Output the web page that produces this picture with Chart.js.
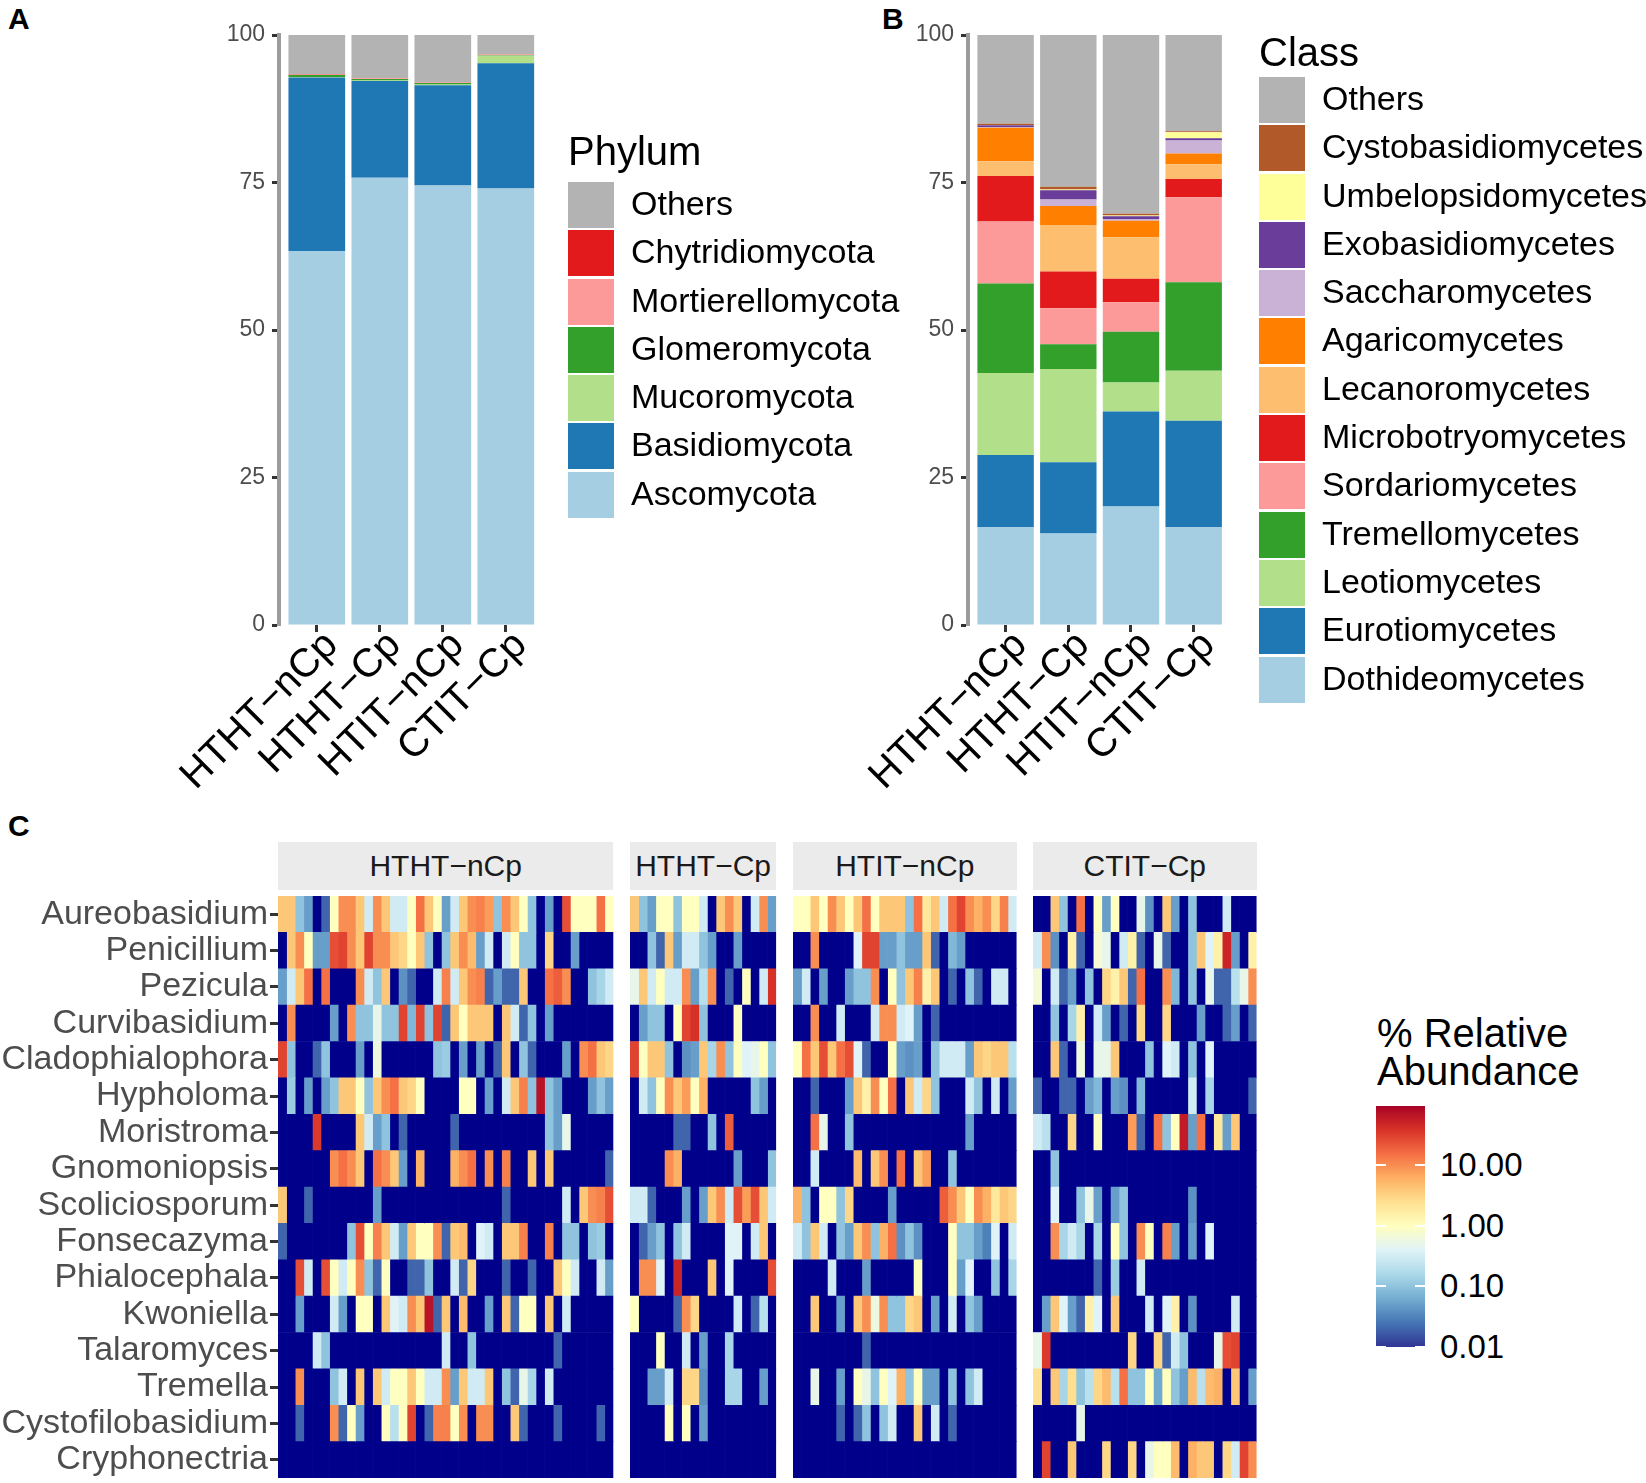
<!DOCTYPE html>
<html>
<head>
<meta charset="utf-8">
<script src="https://cdn.jsdelivr.net/npm/chart.js@4.4.1/dist/chart.umd.min.js"></script>
<style>
body{margin:0;background:#fff;width:1646px;height:1483px;position:relative;overflow:hidden;font-family:"Liberation Sans",Arial,Helvetica,sans-serif;}
canvas{position:absolute;}
.abs{position:absolute;white-space:nowrap;}
.tag{position:absolute;font-weight:bold;font-size:30px;line-height:30px;color:#000;}
.ltitle{position:absolute;font-size:40px;line-height:40px;color:#000;white-space:nowrap;}
.item{position:relative;height:48.3px;}
.key{position:absolute;left:0;top:1px;width:46px;height:46px;}
.ltext{position:absolute;left:63px;top:-2px;font-size:34px;line-height:48.3px;color:#000;white-space:nowrap;}
.strip{position:absolute;top:842px;height:48px;background:#EBEBEB;color:#1A1A1A;font-size:30px;line-height:48px;text-align:center;white-space:nowrap;}
</style>
</head>
<body>
<div class="tag" style="left:8px;top:4px">A</div>
<div class="tag" style="left:882px;top:4px">B</div>
<div class="tag" style="left:8px;top:811px">C</div>

<canvas id="chartA" width="600" height="830" style="left:0;top:0"></canvas>
<canvas id="chartB" width="600" height="830" style="left:700px;top:0"></canvas>
<div id="legA"></div>
<div id="legB"></div>
<div id="heat"></div>
<div id="cbar"></div>

<script>
// ---- data ----
const treatments = ['HTHT−nCp', 'HTHT−Cp', 'HTIT−nCp', 'CTIT−Cp'];

// panel A, % per phylum
const ascomycota = [63.4, 75.8, 74.5, 74.0];
const basidiomycota = [29.4, 16.4, 17.0, 21.2];
const mucoromycota = [0.1, 0.1, 0.1, 1.3];
const glomeromycota = [0.3, 0.25, 0.25, 0.05];
const mortierellomycota = [0.1, 0.1, 0.1, 0.15];
const chytridiomycota = [0.1, 0.05, 0.05, 0.05];
const phylumOthers = [6.6, 7.3, 8.0, 3.25];

// panel B, % per class
const dothideomycetes = [16.6, 15.5, 20.1, 16.6];
const eurotiomycetes = [12.2, 12.1, 16.1, 18.0];
const leotiomycetes = [13.9, 15.8, 4.9, 8.5];
const tremellomycetes = [15.2, 4.2, 8.6, 15.0];
const sordariomycetes = [10.5, 6.1, 5.0, 14.4];
const microbotryomycetes = [7.7, 6.2, 4.0, 3.1];
const lecanoromycetes = [2.5, 7.9, 7.0, 2.5];
const agaricomycetes = [5.7, 3.2, 2.8, 1.8];
const saccharomycetes = [0.1, 1.1, 0.3, 2.2];
const exobasidiomycetes = [0.3, 1.6, 0.5, 0.4];
const umbelopsidomycetes = [0.05, 0.1, 0.1, 1.0];
const cystobasidiomycetes = [0.2, 0.5, 0.3, 0.2];
const classOthers = [15.05, 25.7, 30.3, 16.3];

// panel C, % relative abundance per sample (rows = genera, columns = samples)
const genera = ['Aureobasidium', 'Penicillium', 'Pezicula', 'Curvibasidium', 'Cladophialophora', 'Hypholoma',
  'Moristroma', 'Gnomoniopsis', 'Scoliciosporum', 'Fonsecazyma', 'Phialocephala', 'Kwoniella',
  'Talaromyces', 'Tremella', 'Cystofilobasidium', 'Cryphonectria'];

const heatHTHTnCp = [
  [4,4,.1,.05,0,.02,1,10,10,4,.3,10,4,.3,.3,1,15,4,1,.05,.3,4,10,12,8,.1,10,4,1,.1,0,.05,0,25,1,1,1,15,1],
  [0,4,10,1,.05,.05,25,30,10,4,30,10,10,4,3,1,4,.1,0,.1,4,10,5,.05,.3,0,.3,1,.1,.1,0,3,0,0,.05,0,0,0,0],
  [.05,.3,4,15,0,15,0,0,0,10,.3,.1,4,0,.04,.02,0,0,.3,12,.3,4,10,12,.02,.05,.02,.02,4,0,0,15,20,10,0,0,.1,.15,.3],
  [0,10,0,0,0,0,.05,0,10,.1,.1,.5,.1,.1,30,.08,30,.1,30,.02,4,1,4,4,4,0,4,.3,.02,.1,0,.05,0,0,0,0,0,0,0],
  [30,.1,0,0,.02,.1,0,0,0,.05,0,.6,0,0,0,0,0,0,.1,.12,0,.05,0,.05,0,.02,4,0,.1,.02,0,0,0,.05,0,10,15,4,3],
  [0,.12,0,.05,0,.05,.1,4,4,1,.1,4,10,15,4,3,1,0,0,0,0,1,1,0,.05,0,.3,4,12,.1,70,.1,.05,0,0,0,.05,.1,.05],
  [0,0,0,0,35,0,0,0,0,4,.3,.05,.1,0,.02,0,0,0,0,0,.02,0,0,0,0,0,0,0,0,0,0,.1,.05,.5,0,0,0,0,0],
  [0,0,0,0,0,0,10,15,10,4,0,15,10,4,.05,0,6,0,0,0,6,10,15,0,10,0,12,0,0,4,0,4,0,0,0,0,0,0,.02],
  [4,0,0,.02,0,0,0,0,0,0,0,.05,0,0,0,0,0,0,0,0,0,0,0,0,0,0,.02,0,0,0,0,0,0,.3,0,4,10,12,25],
  [.02,0,0,0,0,0,0,0,.1,25,1,12,4,.3,.05,4,1,1,10,.02,4,5,0,.4,.3,0,4,4,12,0,0,12,0,.1,.1,0,.1,.12,0],
  [0,0,25,.3,0,25,1,.3,1,10,.1,.02,1,0,0,.02,.02,.1,0,0,.3,.02,3,0,0,0,.02,0,0,.02,0,0,4,1,.3,0,0,.3,.05],
  [0,0,.05,0,0,0,.3,.05,0,1,1,0,4,.4,.3,10,4,70,.02,4,0,5,0,0,.05,0,4,.02,1,1,0,4,0,.3,0,0,0,0,0],
  [0,0,0,0,.3,.1,0,0,0,0,0,0,0,0,0,0,0,0,0,.3,0,0,.1,0,0,0,0,0,0,0,0,0,.02,0,0,0,0,0,0],
  [0,0,10,0,0,0,.1,.3,0,4,0,4,.3,1,1,4,1,.3,.3,10,.05,4,.3,.3,4,0,.1,.02,.5,.15,0,.3,0,0,0,0,0,0,0],
  [0,0,.02,0,0,0,10,.02,1,.05,0,0,1,.2,1,30,0,.02,12,12,1,10,0,10,10,0,0,4,.02,0,0,0,.02,0,0,0,0,.02,0],
  [0,0,0,0,0,0,0,0,0,0, 0,0,0,0,0,0,0,0,0,0, 0,0,0,0,0,0,0,0,0,0, 0,0,0,0,0,0,0,0,0]
];

const heatHTHTCp = [
  [4,.1,.05,1,1,.1,1,1,.3,0,4,10,4,0,.3,10,.05],
  [0,0,.1,.02,4,.05,.3,.3,.1,.05,0,0,.05,0,0,0,0],
  [.5,4,.3,1,.3,.3,10,.05,.2,10,0,.02,0,1,0,.3,40],
  [0,.05,.1,.1,0,1,30,40,.1,0,0,0,1,0,0,0,0],
  [30,1,4,4,.1,0,.04,.05,4,.15,10,.1,1,.4,.5,1,.1],
  [0,.3,.1,1,10,4,8,1,6,0,0,0,0,0,.1,.05,0],
  [0,0,0,0,0,.02,.02,0,0,.1,0,20,0,0,0,0,0],
  [0,0,0,0,10,6,0,0,0,0,0,0,.05,0,0,0,.1],
  [.3,.3,.02,0,0,0,.05,0,.05,4,10,.3,25,8,25,4,.3],
  [0,.02,.05,.1,0,.1,.3,0,0,0,0,.4,.4,0,.3,4,0],
  [0,10,10,.4,0,50,0,0,0,4,0,.4,0,0,0,0,25],
  [1,0,0,0,0,.02,10,3,0,0,0,0,.3,0,.02,.2,0],
  [0,0,0,1,0,0,.3,0,.05,0,0,.15,0,0,0,0,0],
  [0,0,.05,.05,.3,0,3,3,.04,0,0,.15,.15,0,0,.05,0],
  [0,0,0,0,1,0,1,0,.05,0,0,0,0,0,0,0,0],
  [0,0,0,0,0,0,0,0,0,0,0,0,0,0,0,0,0]
];

const heatHTITnCp = [
  [1,1,4,1,10,4,1,4,15,1,4,4,4,.1,15,2,4,.3,15,30,10,6,10,3,12,.3],
  [0,0,10,0,0,0,0,.4,30,30,.05,.05,.1,.05,.05,4,.02,0,.08,.05,0,0,0,0,0,0],
  [.05,.3,0,.05,0,0,.05,.1,.1,10,0,1,.1,4,12,1.5,4,0,.02,0,.1,.02,0,.3,.3,0],
  [0,0,10,0,0,.3,0,0,0,.3,10,10,.3,.4,.05,0,.02,0,0,0,0,0,0,0,0,0],
  [1,15,4,25,4,15,25,.4,.02,0,0,1,.05,.04,.05,0,.1,.3,.3,.3,.05,4,3,4,4,.2],
  [0,0,.02,0,0,0,.05,4,1.5,10,1,15,0,4,.3,3,.1,0,0,0,.3,.1,0,.3,0,.05],
  [0,0,15,.5,0,0,.1,0,0,0,0,0,0,0,0,0,0,0,0,0,.05,0,0,0,0,0],
  [0,0,.3,0,0,0,0,5,0,4,10,0,15,0,4,8,0,0,.1,0,0,0,0,0,0,0],
  [6,.1,0,1,1,.1,3,0,0,0,0,.05,0,0,0,0,0,20,10,4,1,10,6,2,4,3],
  [.3,.1,4,.3,0,.1,.05,4,10,.1,6,15,.04,.1,.04,0,0,0,1,.1,.1,.05,.03,.4,0,.3],
  [0,0,0,0,.3,0,0,0,.05,0,0,0,0,0,1,0,0,0,1,.05,.4,0,0,.1,0,.15],
  [0,0,4,0,0,.05,0,4,10,.6,10,.1,.1,3,4,0,.05,0,.3,0,.1,.05,0,0,0,0],
  [0,0,0,0,0,0,0,0,.02,0,0,0,0,0,0,0,0,0,0,0,0,0,0,0,0,0],
  [0,0,.5,0,0,.05,0,1,.5,.1,1,.4,6,.1,1,.05,.05,0,.1,0,.1,.3,0,0,0,0],
  [0,0,0,0,0,.02,0,.02,.1,0,.1,.3,0,0,4,0,.3,0,.02,0,0,0,0,0,0,0],
  [0,0,0,0,0,0,0,0,0,0,0,0,0,0,0,0,0,0,0,0,0,0,0,0,0,0]
];

const heatCTITCp = [
  [0,0,4,.1,0,15,0,1,.05,1,0,0,.5,.04,0,4,.05,0,.1,0,0,0,.3,0,0,0],
  [.3,10,.04,0,1.5,.02,0,.7,.5,0,.3,1.5,.02,0,.5,.02,0,0,.1,4,.4,1.5,50,.05,0,1.5],
  [.7,0,.3,.02,.05,0,.1,0,3,1.5,4,.02,15,0,0,10,.08,0,.1,0,.5,.02,.02,.2,.5,10],
  [0,0,.1,0,.15,1.5,0,.3,.05,0,.02,0,3,0,0,3,0,0,0,.05,0,0,.02,.05,0,.02],
  [0,0,4,.02,0,.6,0,.5,.5,4,0,0,0,.1,0,.4,.3,0,.1,0,.4,0,0,0,0,0],
  [.02,0,0,.02,.02,0,.05,.08,0,.05,.04,0,.08,0,0,0,0,0,.3,0,.15,0,0,0,0,.02],
  [.3,.2,0,0,3,0,0,1,0,0,0,8,.02,0,15,.1,1,60,.05,15,0,2,.05,4,0,0],
  [0,0,.1,0,0,0,0,0,0,0,0,0,0,0,0,0,0,0,0,0,0,0,0,0,0,0],
  [0,0,.4,0,0,.1,.5,.05,0,.05,.1,0,0,0,0,0,0,0,.04,0,0,0,0,0,0,0],
  [0,0,10,.15,.3,.15,0,.15,0,1,.1,0,10,1,0,12,.05,0,.05,0,.4,0,0,0,0,0],
  [0,0,0,0,0,0,0,.02,0,.12,0,0,.3,0,0,0,0,0,0,0,0,0,0,0,0,0],
  [0,.05,4,.4,.05,.02,1.5,.4,0,4,0,0,0,.3,0,.4,1.5,0,.04,0,0,0,0,.3,0,0],
  [.5,35,0,0,0,0,0,0,0,0,0,3,0,0,3,.02,.3,.1,0,0,0,.5,25,30,0,0],
  [2.5,0,4,.15,2.5,.1,.2,3,5,.2,15,.1,.1,1,.06,1,.1,.05,5,.2,5,6,0,4,0,.05],
  [0,0,0,0,0,.5,0,0,0,0,0,0,0,0,0,0,0,0,0,0,0,0,0,0,0,0],
  [0,30,0,0,4,0,0,0,3,0,0,3,0,.5,1,1,5,0,6,4,4,0,3,.3,30,10]
];

const cbarTicks = [10, 1, 0.1, 0.01];
const cbarLabels = ['10.00', '1.00', '0.10', '0.01'];

// ---- style ----
const FONT = '"Liberation Sans", Arial, Helvetica, sans-serif';
Chart.defaults.font.family = FONT;
const RDYLBU = ['#313695','#4575b4','#74add1','#abd9e9','#e0f3f8','#ffffbf','#fee090','#fdae61','#f46d43','#d73027','#a50026'];
const LOG_MIN = -2, LOG_MAX = 1.98;

function hex2rgb(h) { return [1, 3, 5].map(i => parseInt(h.substr(i, 2), 16)); }
function heatColor(v) {
  if (v <= 0) return '#00008B';
  let t = (Math.log10(v) - LOG_MIN) / 0.4;
  t = Math.max(0, Math.min(10, t));
  const i = Math.min(9, Math.floor(t)), f = t - i;
  const a = hex2rgb(RDYLBU[i]), b = hex2rgb(RDYLBU[i + 1]);
  const c = a.map((x, k) => Math.round(x + (b[k] - x) * f));
  return `rgb(${c[0]},${c[1]},${c[2]})`;
}

// ---- stacked bar panels ----
function stackedPanel(id, series, yWidth, padRight) {
  new Chart(document.getElementById(id), {
    type: 'bar',
    data: {
      datasets: series.map(s => ({
        label: s.name,
        data: s.values.map((v, i) => ({ x: i, y: v })),
        backgroundColor: s.color,
        borderWidth: 0,
        barPercentage: 0.9,
        categoryPercentage: 1
      }))
    },
    options: {
      responsive: false,
      animation: false,
      layout: { padding: { top: 35, right: padRight, left: 0, bottom: 0 } },
      plugins: { legend: { display: false }, tooltip: { enabled: false } },
      scales: {
        x: {
          type: 'linear', stacked: true, min: -0.6, max: 3.6, offset: false,
          afterBuildTicks: s => { s.ticks = treatments.map((t, i) => ({ value: i })); },
          afterFit: s => { s.height = 205; },
          border: { display: false },
          grid: { display: true, offset: false, drawOnChartArea: false, drawTicks: true, tickLength: 7, tickWidth: 3, tickColor: '#333' },
          ticks: { autoSkip: false, minRotation: 45, maxRotation: 45, padding: -10, labelOffset: 15, color: '#000',
                   font: { size: 40 }, callback: v => treatments[v] }
        },
        y: {
          stacked: true, min: 0, max: 100,
          afterFit: s => { s.width = yWidth; },
          border: { display: true, color: '#9c9c9c', width: 4 },
          grid: { display: true, drawOnChartArea: false, drawTicks: true, tickLength: 7, tickWidth: 3, tickColor: '#333' },
          ticks: { stepSize: 25, padding: 7, color: '#4d4d4d', font: { size: 23 } }
        }
      }
    }
  });
}

const phylumSeries = [
  { name: 'Ascomycota', values: ascomycota, color: '#A6CEE3' },
  { name: 'Basidiomycota', values: basidiomycota, color: '#1F78B4' },
  { name: 'Mucoromycota', values: mucoromycota, color: '#B2DF8A' },
  { name: 'Glomeromycota', values: glomeromycota, color: '#33A02C' },
  { name: 'Mortierellomycota', values: mortierellomycota, color: '#FB9A99' },
  { name: 'Chytridiomycota', values: chytridiomycota, color: '#E31A1C' },
  { name: 'Others', values: phylumOthers, color: '#B3B3B3' }
];
const classSeries = [
  { name: 'Dothideomycetes', values: dothideomycetes, color: '#A6CEE3' },
  { name: 'Eurotiomycetes', values: eurotiomycetes, color: '#1F78B4' },
  { name: 'Leotiomycetes', values: leotiomycetes, color: '#B2DF8A' },
  { name: 'Tremellomycetes', values: tremellomycetes, color: '#33A02C' },
  { name: 'Sordariomycetes', values: sordariomycetes, color: '#FB9A99' },
  { name: 'Microbotryomycetes', values: microbotryomycetes, color: '#E31A1C' },
  { name: 'Lecanoromycetes', values: lecanoromycetes, color: '#FDBF6F' },
  { name: 'Agaricomycetes', values: agaricomycetes, color: '#FF7F00' },
  { name: 'Saccharomycetes', values: saccharomycetes, color: '#CAB2D6' },
  { name: 'Exobasidiomycetes', values: exobasidiomycetes, color: '#6A3D9A' },
  { name: 'Umbelopsidomycetes', values: umbelopsidomycetes, color: '#FFFF99' },
  { name: 'Cystobasidiomycetes', values: cystobasidiomycetes, color: '#B15928' },
  { name: 'Others', values: classOthers, color: '#B3B3B3' }
];

stackedPanel('chartA', phylumSeries, 279, 56.4);
stackedPanel('chartB', classSeries, 268, 68.7);

function buildLegend(id, title, series, left, titleTop, itemsTop) {
  const root = document.getElementById(id);
  let html = `<div class="ltitle" style="left:${left}px;top:${titleTop}px">${title}</div>`;
  html += `<div class="abs" style="left:${left}px;top:${itemsTop}px">`;
  series.slice().reverse().forEach(s => {
    html += `<div class="item"><div class="key" style="background:${s.color}"></div><div class="ltext">${s.name}</div></div>`;
  });
  root.innerHTML = html + '</div>';
}
buildLegend('legA', 'Phylum', phylumSeries, 568, 131, 181);
buildLegend('legB', 'Class', classSeries, 1259, 32, 76);

// ---- heatmap facets ----
const CELL = 8.6;
const facets = [
  { name: treatments[0], left: 278, rows: heatHTHTnCp },
  { name: treatments[1], left: 630, rows: heatHTHTCp },
  { name: treatments[2], left: 793, rows: heatHTITnCp },
  { name: treatments[3], left: 1033, rows: heatCTITCp }
];
const heatRoot = document.getElementById('heat');
facets.forEach((f, k) => {
  const ncol = f.rows[0].length;
  const w = ncol * CELL;
  const strip = document.createElement('div');
  strip.className = 'strip';
  strip.style.left = f.left + 'px';
  strip.style.width = w + 'px';
  strip.textContent = f.name;
  heatRoot.appendChild(strip);

  const yWidth = k === 0 ? f.left : 0;
  const cw = Math.ceil(yWidth + w);
  const cv = document.createElement('canvas');
  cv.width = cw; cv.height = 633;
  cv.style.left = (f.left - yWidth) + 'px';
  cv.style.top = '870px';
  heatRoot.appendChild(cv);

  const datasets = [];
  for (let j = 0; j < ncol; j++) {
    datasets.push({
      data: genera.map(() => 1),
      backgroundColor: f.rows.map(r => heatColor(r[j])),
      borderWidth: 0,
      barPercentage: 1,
      categoryPercentage: 1
    });
  }
  new Chart(cv, {
    type: 'bar',
    data: { labels: genera, datasets },
    options: {
      indexAxis: 'y',
      responsive: false,
      animation: false,
      layout: { padding: { top: 26, bottom: 25, left: 0, right: cw - yWidth - w } },
      plugins: { legend: { display: false }, tooltip: { enabled: false } },
      scales: {
        x: { stacked: true, min: 0, max: ncol, display: false },
        y: {
          stacked: true, display: k === 0,
          afterFit: s => { s.width = yWidth; },
          border: { display: false },
          grid: { display: true, offset: false, drawOnChartArea: false, drawTicks: true, tickLength: 8, tickWidth: 3, tickColor: '#333' },
          ticks: { autoSkip: false, padding: 2, color: '#4d4d4d', font: { size: 34 } }
        }
      }
    }
  });
});

// ---- colour bar legend ----
(function () {
  const root = document.getElementById('cbar');
  const top = 1106, h = 241, left = 1376, w = 49;
  const stops = RDYLBU.map((c, i) => `${c} ${(0.4 * i / (LOG_MAX - LOG_MIN) * 100).toFixed(2)}%`).join(',');
  let html = `<div class="abs" style="left:1377px;top:1014px;font-size:40px;line-height:38px;color:#000">% Relative<br>Abundance</div>`;
  html += `<div class="abs" style="left:${left}px;top:${top}px;width:${w}px;height:${h}px;background:linear-gradient(to top,${stops})"></div>`;
  cbarTicks.forEach((v, i) => {
    const y = top + h - (Math.log10(v) - LOG_MIN) / (LOG_MAX - LOG_MIN) * h;
    html += `<div class="abs" style="left:${left}px;top:${y - 1}px;width:10px;height:2px;background:#fff"></div>`;
    html += `<div class="abs" style="left:${left + w - 10}px;top:${y - 1}px;width:10px;height:2px;background:#fff"></div>`;
    html += `<div class="abs" style="left:1440px;top:${y - 20}px;font-size:33px;line-height:40px;color:#000">${cbarLabels[i]}</div>`;
  });
  root.innerHTML = html;
})();
</script>
</body>
</html>
